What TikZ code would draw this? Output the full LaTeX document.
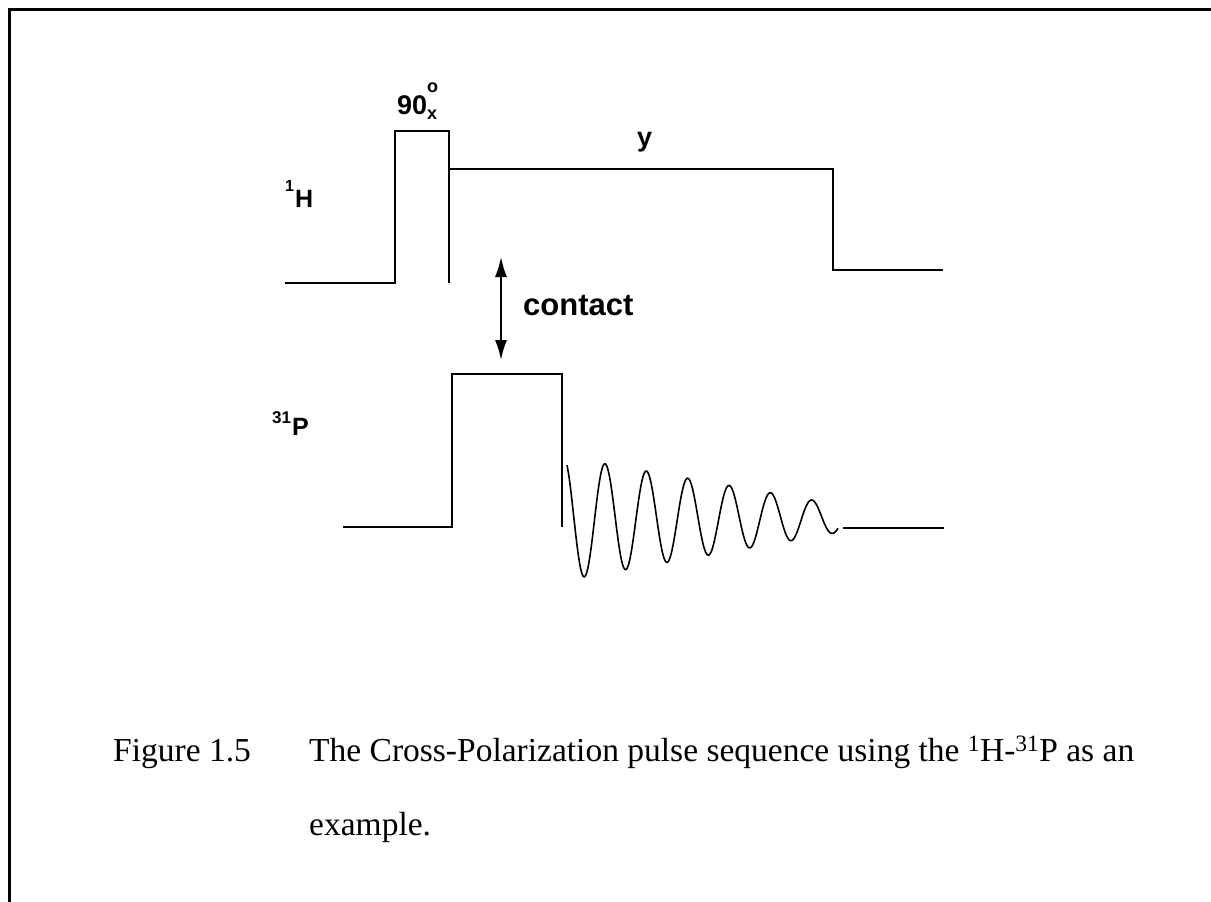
\documentclass[tikz,border=0pt]{standalone}
\usepackage{fontspec}
\setmainfont{Liberation Serif}
\newfontfamily\labfont{Liberation Sans}
\usetikzlibrary{arrows.meta}
\begin{document}
\begin{tikzpicture}[x=1pt,y=-1pt, line join=miter,
  pulse/.style={line width=2.4pt},
  fid/.style={line width=1.6pt},
  lab/.style={font=\labfont\bfseries\fontsize{25}{30}\selectfont, inner sep=0pt},
  biglab/.style={lab, font=\labfont\bfseries\fontsize{27}{30}\selectfont},
  captext/.style={font=\fontsize{33.5}{40}\selectfont, inner sep=0pt, anchor=base west}]
\useasboundingbox (0,0) rectangle (1211,902);
\draw[line width=3pt] (9,902) -- (9,9) -- (1211,9);
% 1H channel
\coordinate (h0) at (285,283);
\coordinate (h1) at (943,270);
\draw[pulse] (h0) -- (395,283) -- (395,131) -- (449,131) -- (449,283);
\draw[pulse] (449,169) -- (833,169) -- (833,270) -- (h1);
% 31P channel
\coordinate (p0) at (343,527);
\coordinate (p1) at (944,528);
\draw[pulse] (p0) -- (452,527) -- (452,374) -- (562,374) -- (562,527);
\draw[fid] plot[domain=567:838, samples=300, smooth]
  (\x, {518.5 - (53-0.175*(\x-615))*cos(((\x-605)/41.4)*360)});
\draw[pulse] (843,528) -- (p1);
% labels
\node[lab, anchor=base west] (hlab) at (285,207) {\raisebox{16pt}{\fontsize{16}{16}\selectfont 1}\kern1pt H};
\node[lab, anchor=base west] (plab) at (272,435) {\raisebox{12pt}{\fontsize{17}{17}\selectfont 31}\kern1pt P};
\node[biglab, anchor=base west] (nin) at (397,114) {90\makebox[0pt][l]{\raisebox{0.78em}{\fontsize{18}{18}\selectfont o}}\raisebox{-0.2em}{\fontsize{18}{18}\selectfont x}};
\node[biglab, anchor=base west] (ylab) at (637,146) {y};
\node[lab, font=\labfont\bfseries\fontsize{31}{34}\selectfont, anchor=base west] (contact) at (523,315) {contact};
\coordinate (ct) at (501,257);
\coordinate (cb) at (501,360);
\draw[line width=1.8pt, {Latex[length=20pt,width=12pt]}-{Latex[length=20pt,width=12pt]}] (ct) -- (cb);
% caption
\node[captext] (fig) at (113,761) {Figure 1.5};
\node[captext] (cap1) at (309,761) {The Cross-Polarization pulse sequence using the \textsuperscript{1}H-\textsuperscript{31}P as an};
\node[captext] (cap2) at (309,835) {example.};
\end{tikzpicture}
\end{document}
